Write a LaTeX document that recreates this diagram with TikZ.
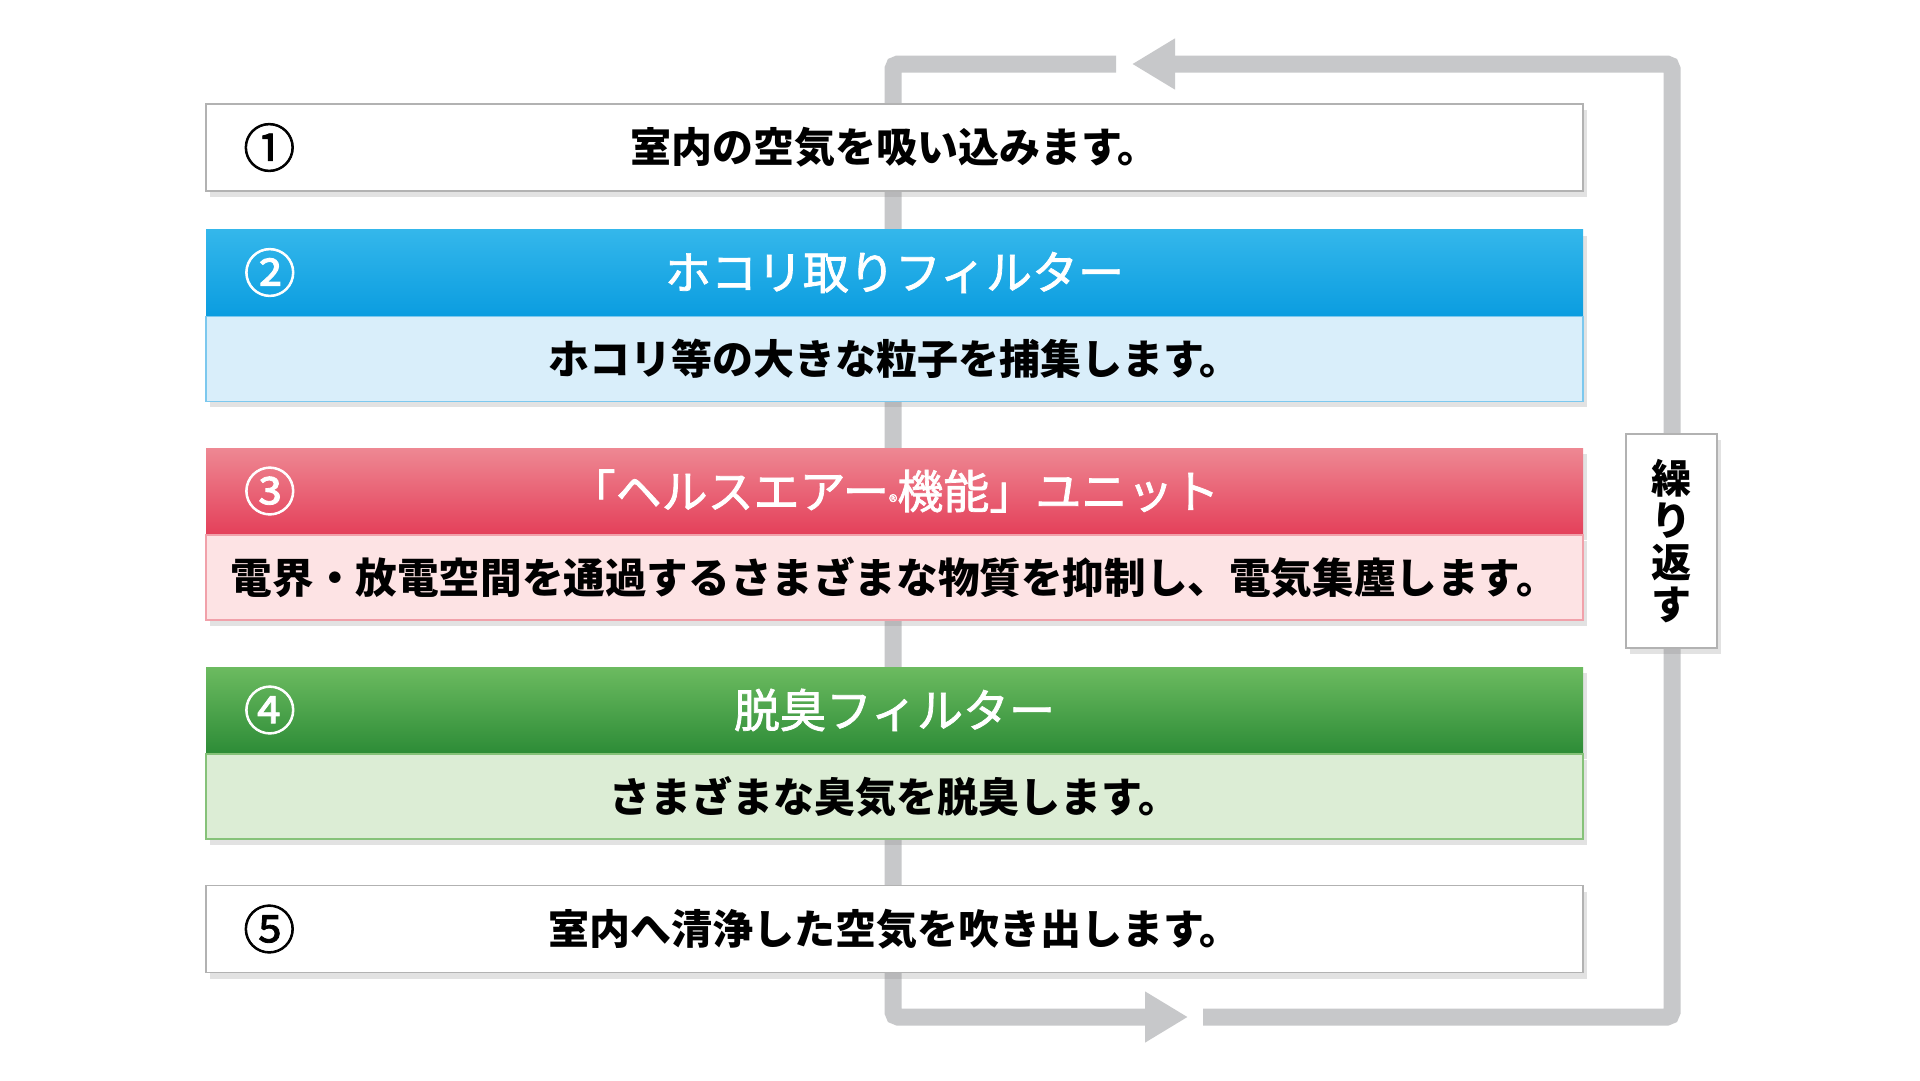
\documentclass[tikz,border=0pt]{standalone}
\usepackage{fontspec}
\setmainfont{Noto Sans CJK JP}
\newfontfamily\jpmid[FakeBold=1.6]{Noto Sans CJK JP}
\usetikzlibrary{positioning,arrows.meta,shadows}

\definecolor{loopgray}{HTML}{C7C8CA}
\definecolor{blueTop}{HTML}{34B7EB}
\definecolor{blueBot}{HTML}{0B9DE0}
\definecolor{blueBody}{HTML}{D9EEFA}
\definecolor{blueEdge}{HTML}{7CC8EE}
\definecolor{redTop}{HTML}{EE8893}
\definecolor{redBot}{HTML}{E4405A}
\definecolor{redBody}{HTML}{FDE3E4}
\definecolor{redEdge}{HTML}{F1A1AA}
\definecolor{greenTop}{HTML}{6CBB60}
\definecolor{greenBot}{HTML}{2D8C37}
\definecolor{greenBody}{HTML}{DCEDD5}
\definecolor{greenEdge}{HTML}{86C279}

\tikzset{
  boxshadow/.style={drop shadow={shadow xshift=4pt, shadow yshift=-6pt, opacity=0.25, fill=black!45}},
  plainbox/.style={draw=black!30, line width=1.5pt, fill=white, minimum width=1377pt,
    minimum height=87pt, inner sep=0pt, boxshadow, font=\fontsize{41}{41}\selectfont\bfseries},
  headbox/.style={minimum width=1377pt, minimum height=86pt, inner sep=0pt, boxshadow,
    text=white, font=\fontsize{46}{46}\selectfont\jpmid},
  bodybox/.style={minimum width=1377pt, minimum height=85pt, inner sep=0pt, boxshadow,
    line width=1.5pt, font=\fontsize{41}{41}\selectfont\bfseries},
  num/.style={font=\fontsize{52}{52}\selectfont\jpmid, inner sep=0pt},
  loopline/.style={draw=loopgray, line width=17pt, rounded corners=5pt},
  looptip/.style={-{Triangle[length=43pt,width=48pt]}},
}

\begin{document}
\begin{tikzpicture}[x=1pt, y=-1pt]
  \fill[white] (0,0) rectangle (1920,1080);
  \useasboundingbox (0,0) rectangle (1920,1080);

  % loop
  \coordinate (topgap) at (1116,64);
  \coordinate (tl) at (893,64);
  \coordinate (bl) at (893,1017);
  \coordinate (botarrow) at (1188,1017);
  \coordinate (botgap) at (1203,1017);
  \coordinate (br) at (1672,1017);
  \coordinate (tr) at (1672,64);
  \coordinate (toparrow) at (1132,64);
  \draw[loopline, looptip] (topgap) -- (tl) -- (bl) -- (botarrow);
  \draw[loopline, looptip] (botgap) -- (br) -- (tr) -- (toparrow);

  % steps
  \node[plainbox] (box1) at (894.5,147.5) {室内の空気を吸い込みます。};
  \node[num] (n1) at ([xshift=64pt]box1.west) {①};

  \node[headbox, top color=blueTop, bottom color=blueBot] (head2) at (894.5,272.5) {ホコリ取りフィルター};
  \node[bodybox, fill=blueBody, draw=blueEdge, below=0pt of head2] (body2) {ホコリ等の大きな粒子を捕集します。};
  \node[num, text=white] (n2) at ([xshift=64pt]head2.west) {②};

  \node[headbox, top color=redTop, bottom color=redBot] (head3) at (894.5,491) {「ヘルスエアー{\fontsize{18}{18}\selectfont ®}機能」ユニット};
  \node[bodybox, fill=redBody, draw=redEdge, below=0pt of head3, font=\fontsize{41.6}{42}\selectfont\bfseries] (body3) {電界・放電空間を通過するさまざまな物質を抑制し、電気集塵します。};
  \node[num, text=white] (n3) at ([xshift=64pt]head3.west) {③};

  \node[headbox, top color=greenTop, bottom color=greenBot] (head4) at (894.5,710) {脱臭フィルター};
  \node[bodybox, fill=greenBody, draw=greenEdge, below=0pt of head4] (body4) {さまざまな臭気を脱臭します。};
  \node[num, text=white] (n4) at ([xshift=64pt]head4.west) {④};

  \node[plainbox] (box5) at (894.5,929) {室内へ清浄した空気を吹き出します。};
  \node[num] (n5) at ([xshift=64pt]box5.west) {⑤};

  % repeat label
  \node[draw=black!30, line width=1.5pt, fill=white, minimum width=91pt, minimum height=214pt,
    inner sep=0pt, boxshadow, align=center, font=\fontsize{40}{42}\selectfont\bfseries]
    (repeat) at (1671.5,541) {繰\\り\\返\\す};
\end{tikzpicture}
\end{document}
